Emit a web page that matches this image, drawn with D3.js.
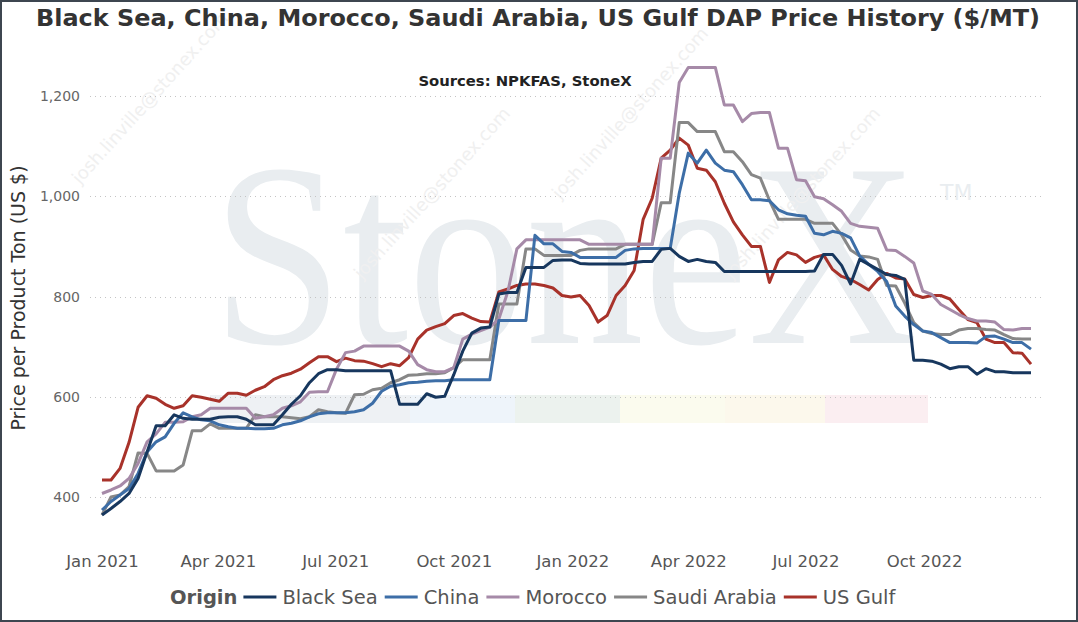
<!DOCTYPE html>
<html>
<head>
<meta charset="utf-8">
<script src="https://cdn.jsdelivr.net/npm/d3@7"></script>
<style>
    body { margin: 0; background: #fff; }
    svg { display: block; }
</style>
</head>
<body>
<div id="chart"></div>
<script>
// Series (weekly, Fridays from Jan 1 2021), $/MT
const seriesNames = ['Black Sea', 'China', 'Morocco', 'Saudi Arabia', 'US Gulf'];
const seriesColors = ['#17375e', '#3d6ea7', '#a68aa8', '#878787', '#a8322a'];

const blackSea = [364, 377, 391, 407, 437, 490, 542, 542, 564, 557, 555, 555, 555, 559, 560, 560, 555, 544, 544, 544,
    564, 585, 602, 628, 646, 654, 654, 652, 652, 652, 652, 652, 652, 585, 585, 585, 606, 599, 601, 644,
    691, 727, 737, 739, 805, 808, 808, 858, 858, 858, 872, 873, 873, 866, 865, 865, 865, 865, 865, 868,
    870, 870, 894, 896, 880, 870, 874, 870, 868, 850, 850, 850, 850, 850, 850, 850, 850, 850, 850, 851,
    884, 884, 862, 825, 874, 864, 854, 844, 842, 834, 673, 673, 671, 665, 656, 660, 660, 645, 656, 650,
    650, 648, 648, 648];
const china = [374, 391, 404, 417, 447, 490, 510, 520, 547, 568, 560, 554, 552, 544, 540, 537, 537, 536, 536, 537,
    544, 547, 552, 560, 566, 568, 568, 568, 570, 574, 587, 611, 621, 624, 628, 629, 631, 632, 632, 634,
    634, 634, 634, 634, 752, 752, 752, 752, 922, 905, 905, 890, 888, 878, 878, 878, 878, 878, 892, 895,
    896, 896, 896, 896, 1006, 1086, 1066, 1092, 1066, 1052, 1049, 1023, 993, 993, 991, 973, 965, 962, 960, 926,
    923, 930, 926, 917, 881, 864, 850, 830, 781, 761, 744, 731, 728, 718, 708, 708, 708, 707, 720, 721,
    715, 708, 708, 695];
const morocco = [407, 414, 422, 437, 467, 510, 526, 549, 549, 550, 560, 564, 577, 577, 577, 577, 577, 557, 560, 564,
    577, 582, 590, 609, 610, 610, 655, 688, 691, 701, 701, 701, 701, 701, 691, 664, 654, 650, 650, 658,
    715, 725, 732, 739, 755, 810, 895, 913, 913, 913, 913, 913, 913, 913, 904, 904, 904, 904, 904, 904,
    904, 904, 1076, 1076, 1227, 1257, 1257, 1257, 1257, 1182, 1182, 1149, 1165, 1167, 1167, 1096, 1096, 1033, 1031, 999,
    995, 983, 970, 946, 940, 938, 936, 893, 892, 880, 867, 811, 804, 784, 774, 764, 756, 751, 751, 749,
    734, 733, 736, 736];
const saudiArabia = [364, 400, 404, 421, 488, 487, 452, 452, 452, 464, 532, 532, 546, 537, 537, 537, 537, 564, 560, 560,
    560, 558, 556, 560, 574, 570, 568, 567, 604, 605, 614, 617, 628, 634, 643, 644, 646, 646, 648, 658,
    674, 674, 674, 674, 785, 785, 785, 895, 895, 882, 882, 882, 882, 892, 895, 895, 895, 895, 904, 904,
    904, 904, 987, 987, 1147, 1147, 1129, 1129, 1129, 1089, 1089, 1069, 1043, 1036, 992, 954, 954, 954, 954, 946,
    946, 946, 923, 893, 881, 879, 874, 822, 821, 787, 748, 731, 726, 724, 724, 733, 736, 736, 734, 733,
    724, 716, 715, 715];
const usGulf = [434, 434, 457, 509, 579, 602, 597, 585, 577, 582, 602, 599, 595, 591, 607, 607, 603, 613, 620, 634,
    642, 647, 655, 668, 680, 680, 670, 677, 672, 671, 666, 660, 666, 662, 678, 715, 733, 740, 746, 762,
    766, 757, 750, 749, 809, 815, 822, 825, 825, 822, 817, 802, 799, 802, 782, 749, 762, 802, 822, 852,
    954, 996, 1076, 1092, 1116, 1102, 1056, 1052, 1029, 986, 949, 923, 900, 900, 828, 873, 888, 883, 868, 878,
    883, 854, 840, 834, 824, 813, 834, 846, 837, 835, 804, 798, 802, 802, 795, 774, 754, 748, 715, 708,
    708, 688, 687, 665];

const yTicks = [400, 600, 800, 1000, 1200];
const seriesValues = [blackSea, china, morocco, saudiArabia, usGulf];

function draw() {
    const dimensions = {
        width: 1078,
        height: 622,
        left: 102,
        right: 1031,
        top: 96,
        bottom: 497,
        gridLeft: 90,
        gridRight: 1045
    };

    const dates = d3.timeFriday.range(new Date(2021, 0, 1), new Date(2022, 11, 24));

    // Scales
    const xScale = d3.scaleTime()
        .domain([dates[0], dates[dates.length - 1]])
        .range([dimensions.left, dimensions.right]);

    const yScale = d3.scaleLinear()
        .domain([400, 1200])
        .range([dimensions.bottom, dimensions.top]);

    const svg = d3.select('#chart')
        .append('svg')
        .attr('width', dimensions.width)
        .attr('height', dimensions.height)
        .style('font-family', '"DejaVu Sans", sans-serif');

    // Watermark
    const mark = svg.append('g').attr('class', 'watermark');
    const bandColors = ['#eef1f4', '#eef4fa', '#ecf2ee', '#fbfbee', '#fcf8ec', '#fbeef1'];
    const bandEdges = [210, 410, 515, 620, 725, 825, 928];
    mark.selectAll('rect.band')
        .data(bandColors)
        .join('rect')
        .attr('class', 'band')
        .attr('x', (d, i) => bandEdges[i])
        .attr('y', 395)
        .attr('width', (d, i) => bandEdges[i + 1] - bandEdges[i])
        .attr('height', 28)
        .attr('fill', d => d);

    const logo = mark.append('text')
        .attr('x', 0)
        .attr('y', 0)
        .style('font-family', '"Liberation Serif", "DejaVu Serif", serif')
        .style('font-size', '262px')
        .attr('fill', '#e9edf0')
        .text('StoneX');
    const logoScale = 706 / logo.node().getComputedTextLength();
    logo.attr('transform', `translate(212, 343) scale(${logoScale}, 1)`);

    mark.append('text')
        .attr('x', 940)
        .attr('y', 200)
        .style('font-size', '22px')
        .attr('fill', '#e9edf0')
        .text('TM');

    const emailSpots = [[80, 185], [362, 280], [732, 280], [560, 200]];
    mark.selectAll('text.email')
        .data(emailSpots)
        .join('text')
        .attr('class', 'email')
        .attr('transform', d => `translate(${d[0]}, ${d[1]}) rotate(-48)`)
        .style('font-size', '18px')
        .attr('fill', '#f0f0f0')
        .text('josh.linville@stonex.com');

    // Grid + y axis labels
    const grid = svg.append('g');
    grid.selectAll('line')
        .data(yTicks)
        .join('line')
        .attr('x1', dimensions.gridLeft)
        .attr('x2', dimensions.gridRight)
        .attr('y1', d => Math.round(yScale(d)) + 0.5)
        .attr('y2', d => Math.round(yScale(d)) + 0.5)
        .attr('stroke', '#c4c4c4')
        .attr('stroke-dasharray', '1,4');

    grid.selectAll('text')
        .data(yTicks)
        .join('text')
        .attr('x', 80)
        .attr('y', d => yScale(d))
        .attr('dy', '0.36em')
        .attr('text-anchor', 'end')
        .style('font-size', '14px')
        .attr('fill', '#666')
        .text(d3.format(','));

    svg.append('text')
        .attr('transform', 'translate(25, 298) rotate(-90)')
        .attr('text-anchor', 'middle')
        .style('font-size', '19px')
        .attr('fill', '#333')
        .text('Price per Product Ton (US $)');

    // X axis
    const xAxis = d3.axisBottom(xScale)
        .ticks(d3.timeMonth.every(3))
        .tickFormat(d3.timeFormat('%b %Y'))
        .tickSize(0)
        .tickPadding(0);

    const xAxisGroup = svg.append('g')
        .attr('transform', 'translate(0, 555)')
        .call(xAxis);
    xAxisGroup.select('.domain').remove();
    xAxisGroup.selectAll('text')
        .style('font-family', '"DejaVu Sans", sans-serif')
        .style('font-size', '16.5px')
        .attr('fill', '#555');

    // Lines
    const line = d3.line()
        .x((d, i) => xScale(dates[i]))
        .y(d => yScale(d));

    const order = [4, 3, 2, 1, 0];
    svg.append('g')
        .selectAll('path')
        .data(order)
        .join('path')
        .attr('d', k => line(seriesValues[k]))
        .attr('fill', 'none')
        .attr('stroke', k => seriesColors[k])
        .attr('stroke-width', 3)
        .attr('stroke-linejoin', 'round');

    // Titles
    svg.append('text')
        .attr('x', 36)
        .attr('y', 26)
        .attr('textLength', 1004)
        .attr('lengthAdjust', 'spacingAndGlyphs')
        .style('font-size', '23px')
        .style('font-weight', 'bold')
        .attr('fill', '#333')
        .text('Black Sea, China, Morocco, Saudi Arabia, US Gulf DAP Price History ($/MT)');

    svg.append('text')
        .attr('x', 525)
        .attr('y', 86)
        .attr('text-anchor', 'middle')
        .style('font-size', '14.8px')
        .style('font-weight', 'bold')
        .attr('fill', '#222')
        .text('Sources: NPKFAS, StoneX');

    // Legend
    const legend = svg.append('g').attr('transform', 'translate(170, 604)');
    const origin = legend.append('text')
        .style('font-size', '19.5px')
        .style('font-weight', 'bold')
        .attr('fill', '#555')
        .text('Origin');
    let cursor = origin.node().getComputedTextLength() + 6;
    seriesNames.forEach((name, k) => {
        legend.append('line')
            .attr('x1', cursor)
            .attr('x2', cursor + 33)
            .attr('y1', -7)
            .attr('y2', -7)
            .attr('stroke', seriesColors[k])
            .attr('stroke-width', 3);
        const t = legend.append('text')
            .attr('x', cursor + 39)
            .style('font-size', '19.5px')
            .attr('fill', '#555')
            .text(name);
        cursor += 39 + t.node().getComputedTextLength() + 7;
    });

    // Border
    svg.append('rect')
        .attr('x', 1)
        .attr('y', 1)
        .attr('width', dimensions.width - 2)
        .attr('height', dimensions.height - 2)
        .attr('fill', 'none')
        .attr('stroke', '#3d4650')
        .attr('stroke-width', 2);
}

draw();
</script>
</body>
</html>
